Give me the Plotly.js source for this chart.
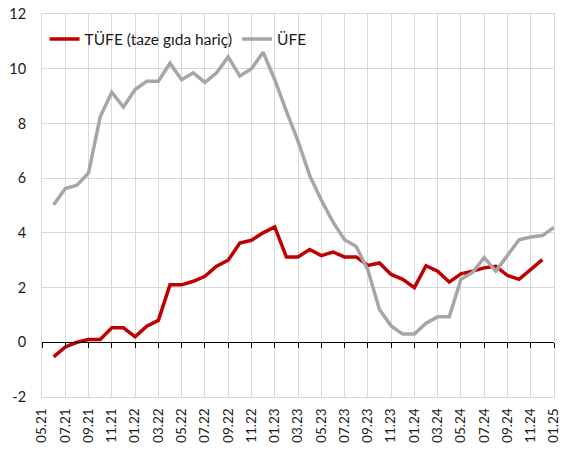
<!DOCTYPE html>
<html>
<head>
<meta charset="utf-8">
<script src="https://cdn.plot.ly/plotly-3.0.1.min.js"></script>
<style>html,body{margin:0;padding:0;background:#fff;}#chart{width:568px;height:453px;}</style>
</head>
<body>
<div id="chart"></div>
<script>
const months = ["05.21","06.21","07.21","08.21","09.21","10.21","11.21","12.21",
  "01.22","02.22","03.22","04.22","05.22","06.22","07.22","08.22","09.22","10.22","11.22","12.22",
  "01.23","02.23","03.23","04.23","05.23","06.23","07.23","08.23","09.23","10.23","11.23","12.23",
  "01.24","02.24","03.24","04.24","05.24","06.24","07.24","08.24","09.24","10.24","11.24","12.24",
  "01.25"];
const tickLabels = ["05.21","07.21","09.21","11.21","01.22","03.22","05.22","07.22","09.22","11.22",
  "01.23","03.23","05.23","07.23","09.23","11.23","01.24","03.24","05.24","07.24","09.24","11.24","01.25"];
const yTickVals = [-2,0,2,4,6,8,10,12];
const yTickText = ["-2","0","2","4","6","8","10","12"];
const tufe = [null,-0.53,-0.17,0.0,0.1,0.1,0.53,0.53,0.2,0.59,0.8,2.1,2.1,2.23,2.41,2.78,3.0,3.63,3.73,4.0,4.22,
  3.12,3.12,3.39,3.17,3.3,3.12,3.12,2.81,2.9,2.48,2.3,2.0,2.8,2.6,2.2,2.5,2.6,2.72,2.78,2.44,2.3,2.66,3.02,null];
const ufe = [null,5.03,5.62,5.74,6.19,8.24,9.14,8.6,9.24,9.54,9.54,10.2,9.6,9.85,9.5,9.85,10.43,9.73,10.0,10.6,9.6,
  8.45,7.35,6.1,5.2,4.4,3.75,3.5,2.65,1.2,0.6,0.3,0.3,0.7,0.93,0.93,2.3,2.55,3.1,2.6,3.15,3.75,3.85,3.9,4.2];
const seriesNames = ["TÜFE (taze gıda hariç)","ÜFE"];

const font = {family:"Lato, 'Noto Sans', sans-serif", size:14, color:"#1a1a1a"};
const grid = "#d9d9d9";
const catAxis = {type:"category", categoryorder:"array", categoryarray:months, range:[0, months.length-1],
  tickmode:"array", tickvals:tickLabels, ticktext:tickLabels};

const traces = [
  {x:months, y:tufe, type:"scatter", mode:"lines", name:seriesNames[0],
   line:{color:"#C00000", width:3.5}, connectgaps:false},
  {x:months, y:ufe, type:"scatter", mode:"lines", name:seriesNames[1],
   line:{color:"#A6A6A6", width:3.5}, connectgaps:false},
  {x:months, y:months.map(()=>null), xaxis:"x2", type:"scatter", mode:"lines",
   showlegend:false, hoverinfo:"skip"}
];

const layout = {
  width:568, height:453,
  margin:{l:42, r:14, t:14, b:56},
  paper_bgcolor:"#fff", plot_bgcolor:"#fff",
  font:font,
  showlegend:true,
  legend:{orientation:"h", x:0.005, y:0.978, xanchor:"left", yanchor:"top",
    bgcolor:"rgba(255,255,255,0)", font:{family:font.family, size:15.5, color:"#1a1a1a"},
    itemwidth:30, tracegroupgap:0},
  xaxis:Object.assign({}, catAxis, {
    tickangle:-90, showgrid:true, gridcolor:grid, gridwidth:1,
    showline:true, linecolor:grid, mirror:true, ticks:"outside", ticklen:5, tickcolor:"rgba(0,0,0,0)",
    tickfont:{family:font.family, size:13.5, color:"#1a1a1a"}, zeroline:false
  }),
  xaxis2:Object.assign({}, catAxis, {
    overlaying:"x", anchor:"free", position:2/14, side:"bottom",
    showgrid:false, showticklabels:false, ticks:"outside", ticklen:5, tickcolor:"#000", tickwidth:1,
    showline:true, linecolor:"#000", linewidth:1, zeroline:false
  }),
  yaxis:{range:[-2,12], tickmode:"array", tickvals:yTickVals, ticktext:yTickText,
    showgrid:true, gridcolor:grid, gridwidth:1,
    showline:true, linecolor:grid, mirror:true, zeroline:false,
    ticks:"outside", ticklen:12, tickcolor:"rgba(0,0,0,0)",
    tickfont:{family:font.family, size:14.5, color:"#1a1a1a"}}
};

Plotly.newPlot("chart", traces, layout, {displayModeBar:false, staticPlot:true});
</script>
</body>
</html>
